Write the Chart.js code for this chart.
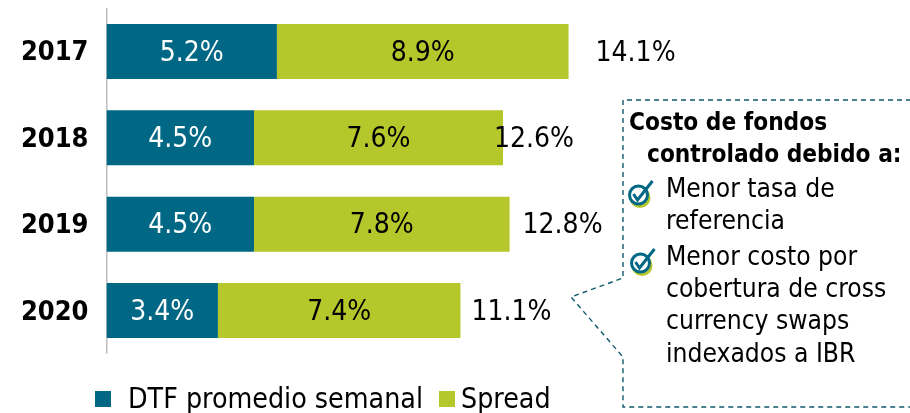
<!DOCTYPE html>
<html><head><meta charset="utf-8">
<style>html,body{margin:0;padding:0;background:#fff}#w{width:910px;height:413px;position:relative}</style>
<script src="https://cdn.jsdelivr.net/npm/chart.js@4"></script></head>
<body><div id="w"><canvas id="c" width="910" height="413"></canvas></div>
<script>
const categories=['2017','2018','2019','2020'];
const dtf=[5.2,4.5,4.5,3.4];
const spread=[8.9,7.6,7.8,7.4];
const totals=[14.1,12.6,12.8,11.1];
const seriesNames=['DTF promedio semanal','Spread'];
const calloutTitle=['Costo de fondos','controlado debido a:'];
const calloutBody=['Menor tasa de','referencia','Menor costo por','cobertura de cross','currency swaps','indexados a IBR'];
const totalOffsets=[67,31,53,51];
const TEAL='#006885',LIME='#b5c72b',FONT='"DejaVu Sans Condensed","DejaVu Sans",sans-serif';

const overlay={id:'overlay',afterDatasetsDraw(chart){
  const {ctx,scales:{x,y}}=chart;
  ctx.save();
  ctx.textBaseline='middle';ctx.textAlign='center';ctx.font='28px '+FONT;
  chart.data.datasets.forEach((ds,d)=>{
    const meta=chart.getDatasetMeta(d);
    ctx.fillStyle=d===0?'#ffffff':'#000000';
    meta.data.forEach((bar,i)=>{
      ctx.fillText(ds.data[i].toFixed(1)+'%',(bar.x+bar.base)/2,bar.y+2);
    });
  });
  ctx.fillStyle='#000';
  totals.forEach((t,i)=>{
    ctx.fillText(t.toFixed(1)+'%',x.getPixelForValue(dtf[i]+spread[i])+totalOffsets[i],y.getPixelForValue(i)+2);
  });
  // legend
  ctx.textAlign='left';ctx.textBaseline='alphabetic';
  ctx.fillStyle=TEAL;ctx.fillRect(95,391,16,16);
  ctx.fillStyle=LIME;ctx.fillRect(439,391,16,16);
  ctx.fillStyle='#000';
  ctx.font='28.3px '+FONT;
  ctx.fillText(seriesNames[0],128,408);
  ctx.fillText(seriesNames[1],461,408);
  // callout
  ctx.strokeStyle='#0f5a6b';ctx.lineWidth=1.4;ctx.setLineDash([5,4]);
  ctx.beginPath();
  ctx.moveTo(911,100);ctx.lineTo(623,100);ctx.lineTo(623,278);ctx.lineTo(571,297);
  ctx.lineTo(623,357);ctx.lineTo(623,407);ctx.lineTo(911,407);
  ctx.stroke();ctx.setLineDash([]);
  ctx.font='bold 24.2px '+FONT;
  ctx.fillText(calloutTitle[0],629,130);
  ctx.fillText(calloutTitle[1],647,162);
  ctx.font='26.2px '+FONT;
  [197,229,265,297,329,362].forEach((by,i)=>ctx.fillText(calloutBody[i],666,by));
  [[638.5,195],[640.5,263]].forEach(([cx,cy])=>{
    ctx.lineWidth=3;
    ctx.strokeStyle=LIME;ctx.beginPath();ctx.arc(cx+1.5,cy+2.5,9,0,Math.PI*2);ctx.stroke();
    ctx.fillStyle='#fff';ctx.beginPath();ctx.arc(cx,cy,9,0,Math.PI*2);ctx.fill();
    ctx.strokeStyle=TEAL;ctx.beginPath();ctx.arc(cx,cy,9,0,Math.PI*2);ctx.stroke();
    ctx.lineWidth=3;ctx.beginPath();ctx.moveTo(cx-5,cy-1);ctx.lineTo(cx-1,cy+5);ctx.lineTo(cx+14,cy-14);ctx.stroke();
  });
  ctx.restore();
}};

new Chart(document.getElementById('c'),{
  type:'bar',
  data:{labels:categories,datasets:[
    {label:seriesNames[0],data:dtf,backgroundColor:TEAL,barPercentage:0.637,categoryPercentage:1},
    {label:seriesNames[1],data:spread,backgroundColor:LIME,barPercentage:0.637,categoryPercentage:1}
  ]},
  options:{
    indexAxis:'y',responsive:false,animation:false,
    layout:{padding:{top:8.3,bottom:59.3,left:0,right:17}},
    plugins:{legend:{display:false},tooltip:{enabled:false}},
    scales:{
      x:{stacked:true,min:0,max:24,display:false},
      y:{stacked:true,
         afterFit(s){s.width=106.5;s.paddingTop=0;s.paddingBottom=0},
         grid:{display:false,drawTicks:false},
         border:{display:true,color:'#bfbfbf',width:1.5},
         ticks:{color:'#000',padding:18,labelOffset:2,font:{family:FONT,size:27,weight:'bold'}}}
    }
  },
  plugins:[overlay]
});
</script></body></html>
